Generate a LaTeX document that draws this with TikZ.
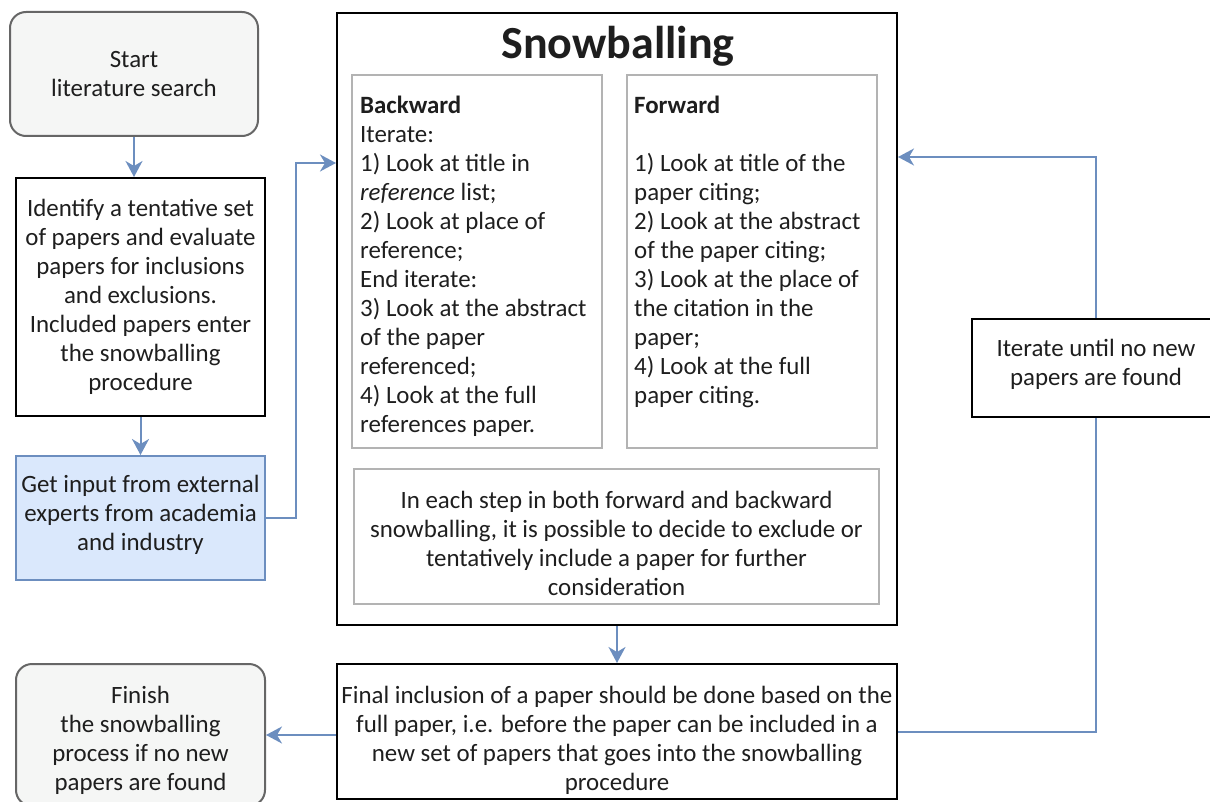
\documentclass[tikz,border=0pt]{standalone}
\usepackage{fontspec}
\setmainfont{Carlito}
\usetikzlibrary{arrows.meta}
\definecolor{txt}{HTML}{1E1E1E}
\definecolor{flow}{HTML}{6C8EBF}
\definecolor{inputfill}{HTML}{DAE8FC}
\definecolor{termfill}{HTML}{F5F6F5}
\definecolor{termline}{HTML}{666666}
\definecolor{panel}{HTML}{B3B3B3}
\begin{document}
\begin{tikzpicture}[x=1pt,y=-1pt,
  every node/.style={text=txt, font=\fontsize{24.9}{29}\selectfont},
  box/.style={draw=black, line width=2pt, align=center, inner sep=0pt},
  terminal/.style={draw=termline, fill=termfill, line width=2pt, rounded corners=16pt, align=center, inner sep=0pt},
  inputbox/.style={draw=flow, fill=inputfill, line width=2pt, align=center, inner sep=0pt},
  panelbox/.style={draw=panel, line width=2pt, inner sep=0pt},
  link/.style={draw=flow, line width=2pt},
  arr/.style={link, -{Stealth[length=16pt, width=17pt, inset=5pt]}}
]
\useasboundingbox (0,0) rectangle (1210,802);

% left column
\node[terminal, minimum width=248pt, minimum height=124pt] (start) at (134,74)
  {Start\\literature search};
\node[box, minimum width=249pt, minimum height=238pt] (ident) at (140.5,297)
  {Identify a tentative set\\of papers and evaluate\\papers for inclusions\\and exclusions.\\Included papers enter\\the snowballing\\procedure};
\node[inputbox, minimum width=249pt, minimum height=124pt] (input) at (140.5,518) {};
\node[align=center, inner sep=0pt] (inputtxt) at (140.5,515)
  {Get input from external\\experts from academia\\and industry};
\node[terminal, minimum width=249pt, minimum height=142pt] (finish) at (140.5,735) {};
\node[align=center, inner sep=0pt] (finishtxt) at (140.5,740)
  {Finish\\the snowballing\\process if no new\\papers are found};

% snowballing block
\node[box, minimum width=560pt, minimum height=612pt] (snow) at (617,319) {};
\node[font=\fontsize{46}{52}\selectfont\bfseries, inner sep=0pt] (title) at (618,46) {Snowballing};
\node[panelbox, minimum width=250pt, minimum height=373pt] (back) at (477,261.5) {};
\node[panelbox, minimum width=250pt, minimum height=373pt] (fwd) at (752,261.5) {};
\node[anchor=north west, align=left, inner sep=0pt] (backtxt) at (360,96)
  {\textbf{Backward}\\Iterate:\\1) Look at title in\\\textit{reference} list;\\2) Look at place of\\reference;\\End iterate:\\3) Look at the abstract\\of the paper\\referenced;\\4) Look at the full\\references paper.};
\node[anchor=north west, align=left, inner sep=0pt] (fwdtxt) at (634,96)
  {\textbf{Forward}\\[29pt]1) Look at title of the\\paper citing;\\2) Look at the abstract\\of the paper citing;\\3) Look at the place of\\the citation in the\\paper;\\4) Look at the full\\paper citing.};
\node[panelbox, align=center, minimum width=525pt, minimum height=135pt] (note) at (616.5,536.5) {};
\node[align=center, inner sep=0pt] (notetxt) at (616.5,543)
  {In each step in both forward and backward\\snowballing, it is possible to decide to exclude or\\tentatively include a paper for further\\consideration};

% final inclusion and loop
\node[box, minimum width=560pt, minimum height=135pt] (final) at (617,731.5) {};
\node[align=center, inner sep=0pt] (finaltxt) at (617,740)
  {Final inclusion of a paper should be done based on the\\full paper, i.e. before the paper can be included in a\\new set of papers that goes into the snowballing\\procedure};
\node[box, minimum width=248pt, minimum height=98pt] (iter) at (1096,368) {};
\node[align=center, inner sep=0pt] (itertxt) at (1096,364)
  {Iterate until no new\\papers are found};

\coordinate (j1) at (296,163);
\coordinate (j2) at (1096,157);

\draw[arr] (start.south) -- (start.south |- ident.north);
\draw[arr] (ident.south) -- (input.north);
\draw[arr] (input.east) -| (j1) -- (j1 -| snow.west);
\draw[arr] (snow.south) -- (final.north);
\draw[arr] (final.west |- finish.east) -- (finish.east);
\draw[link] (final.east) -| (iter.south);
\draw[arr] (iter.north) -- (j2) -- (j2 -| snow.east);
\end{tikzpicture}
\end{document}
